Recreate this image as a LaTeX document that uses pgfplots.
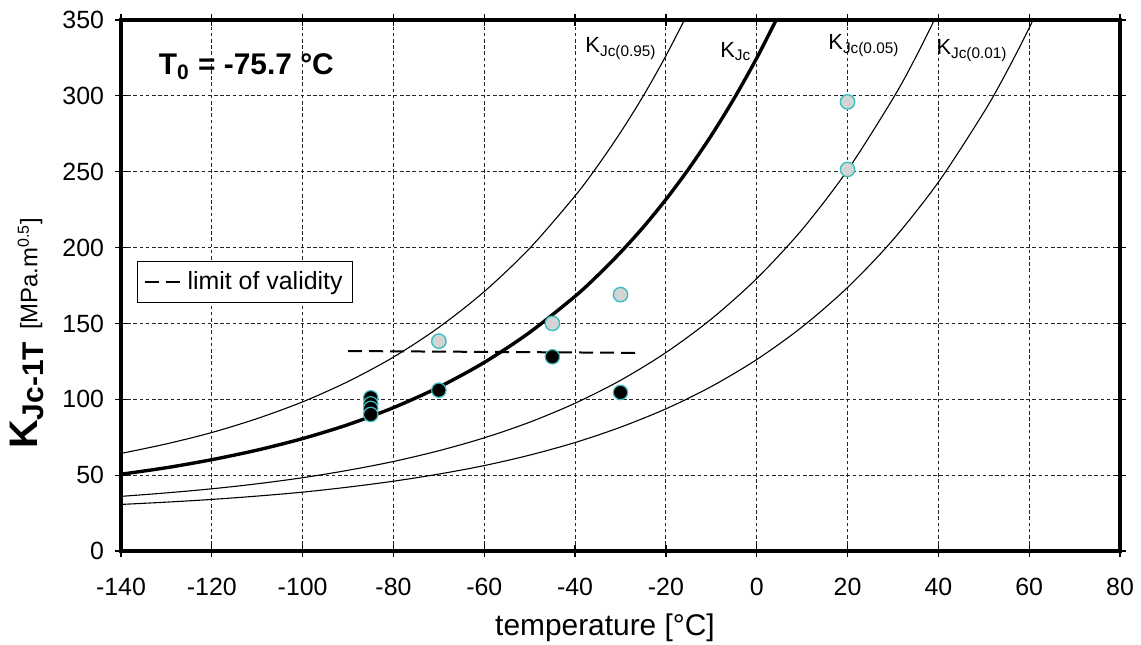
\documentclass[border=0pt]{standalone}
\usepackage{pgfplots}
\pgfplotsset{compat=1.18}
\usepackage{fontspec}
\setmainfont{Liberation Sans}
\definecolor{mkcyan}{HTML}{3CBFC0}
\definecolor{mkgray}{HTML}{D4D4D4}
\definecolor{thin}{HTML}{404040}
\begin{document}
\begin{tikzpicture}
\begin{axis}[name=ax, scale only axis, width=499.5bp, height=265.5bp,
  xmin=-140, xmax=80, ymin=0, ymax=350,
  xtick distance=20, ytick distance=50,
  grid=major,
  major grid style={black!85, line width=0.45bp, dash pattern=on 1.8bp off 1.3bp},
  axis line style={line width=1.6bp},
  tick style={black, line width=0.6bp}, tick align=center, major tick length=6bp,
  ticklabel style={font=\fontsize{12.5}{14}\selectfont},
  /pgf/number format/assume math mode=true,
  xticklabel style={yshift=-7bp},
  yticklabel style={xshift=-2bp},
  xlabel={temperature [°C]},
  xlabel style={font=\fontsize{15}{18}\selectfont, at={(axis description cs:0.4845,-0.145)}, anchor=center},
  ylabel={\textbf{\fontsize{20}{22}\selectfont K\textsubscript{\fontsize{15}{16}\selectfont Jc-1T}}\ \ \fontsize{12}{14}\selectfont[MPa.m\textsuperscript{0.5}]},
  ylabel style={at={(axis description cs:-0.094,0.41)}, anchor=center},
  legend style={at={(0.016,0.546)}, anchor=north west, draw=black, line width=0.6bp,
    font=\fontsize{12.5}{14}\selectfont, inner xsep=3bp, inner ysep=3bp},
  legend cell align=left,
  legend image code/.code={\draw[line width=1bp, dash pattern=on 7bp off 3.5bp] (0bp,0bp) -- (19bp,0bp);},
]
% K_Jc(0.95)
\addplot[thin, line width=0.55bp, smooth, forget plot] coordinates {
(-140,64.3) (-130,70.6) (-120,78.1) (-110,87.3) (-100,98.3) (-90,111.7)
(-80,127.8) (-70,147.4) (-60,171.0) (-50,199.5) (-40,234.1) (-35,254.0)
(-30,275.9) (-25,299.9) (-20,326.4) (-15,355.5)};
% K_Jc median
\addplot[black, line width=1.7bp, smooth, forget plot] coordinates {
(-140,50.6) (-130,54.9) (-120,60.2) (-110,66.5) (-100,74.1) (-90,83.3)
(-80,94.5) (-70,108.0) (-60,124.3) (-50,144.1) (-40,167.9) (-35,181.7)
(-30,196.8) (-25,213.4) (-20,231.7) (-15,251.8) (-10,273.9) (-5,298.2)
(0,324.9) (5,354.3)};
% K_Jc(0.05)
\addplot[thin, line width=0.55bp, smooth, forget plot] coordinates {
(-140,36.0) (-130,38.3) (-120,41.0) (-110,44.3) (-100,48.3) (-90,53.2)
(-80,59.0) (-70,66.1) (-60,74.6) (-50,84.9) (-40,97.4) (-30,112.5)
(-20,130.8) (-10,152.9) (0,179.6) (10,211.9) (20,251.0) (30,298.2)
(35,325.4) (40,355.4)};
% K_Jc(0.01)
\addplot[thin, line width=0.55bp, smooth, forget plot] coordinates {
(-140,30.7) (-130,32.2) (-120,34.0) (-110,36.2) (-100,38.8) (-90,42.1)
(-80,46.0) (-70,50.7) (-60,56.3) (-50,63.2) (-40,71.5) (-30,81.6)
(-20,93.7) (-10,108.4) (0,126.2) (10,147.7) (20,173.7) (30,205.1)
(40,243.1) (50,289.1) (55,315.6) (60,344.7) (65,376.7)};
% limit of validity
\addplot[black, line width=1bp, dash pattern=on 7bp off 3.5bp] coordinates {(-90,131.8) (-26,130.6)};
\addlegendentry{limit of validity}
% valid data
\addplot[only marks, mark=*, mark size=3.6bp, mark options={fill=black, draw=mkcyan, line width=0.6bp}, forget plot] coordinates {
(-85,101) (-85,97) (-85,94) (-85,90) (-70,106) (-45,128) (-30,104.5)};
% invalid data
\addplot[only marks, mark=*, mark size=3.6bp, mark options={fill=mkgray, draw=mkcyan, line width=0.7bp}, forget plot] coordinates {
(-70,138.3) (-45,150) (-30,169) (20,296) (20,251.5)};
\node[anchor=west, font=\fontsize{15}{18}\selectfont\bfseries] at (axis cs:-133.2,319) {T\textsubscript{0} = -75.7 °C};
\node[anchor=west, inner sep=0pt, font=\fontsize{11}{13}\selectfont] at (axis cs:-37.8,331) {K\textsubscript{Jc(0.95)}};
\node[anchor=west, inner sep=0pt, font=\fontsize{11}{13}\selectfont] at (axis cs:-8.1,329) {K\textsubscript{Jc}};
\node[anchor=west, inner sep=0pt, font=\fontsize{11}{13}\selectfont] at (axis cs:15.7,333) {K\textsubscript{Jc(0.05)}};
\node[anchor=west, inner sep=0pt, font=\fontsize{11}{13}\selectfont] at (axis cs:39.5,330) {K\textsubscript{Jc(0.01)}};
\end{axis}
\pgfresetboundingbox
\useasboundingbox ([shift={(-60.5bp,-47bp)}]ax.south west) rectangle ([shift={(10.5bp,10bp)}]ax.north east);
\end{tikzpicture}
\end{document}
